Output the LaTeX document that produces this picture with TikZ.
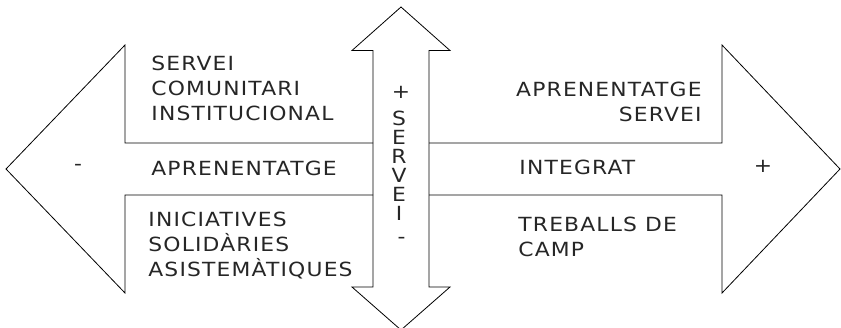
\documentclass[tikz,border=0pt]{standalone}
\usepackage{fontspec}
\setmainfont{DejaVu Sans}[FakeStretch=1.12,LetterSpace=6]

\begin{document}
\begin{tikzpicture}[x=1pt,y=-1pt,line width=0.8pt,
  txt/.style={inner sep=0pt,font=\fontsize{19.5}{25}\selectfont,text=black!85},
  signtxt/.style={inner sep=0pt,font=\fontsize{19.5}{20}\selectfont,text=black!85}]

\useasboundingbox (0,0) rectangle (841,327);

\begin{scope}
% vertical double arrow
\coordinate (vt) at (401,7);
\coordinate (vb) at (401,330);
\coordinate (vtl) at (352,50.5);
\coordinate (vtr) at (450,50.5);
\coordinate (vbl) at (352,287);
\coordinate (vbr) at (450,287);

% shaft corners
\coordinate (sl1) at (373,50.5);
\coordinate (sl2) at (373,287);
\coordinate (sr1) at (429,50.5);
\coordinate (sr2) at (429,287);

% horizontal arrows
\coordinate (lt) at (6,169);
\coordinate (rt) at (840,169);

\draw (vt) -- (vtr) -- (sr1) -- (sr2) -- (vbr) -- (vb) -- (vbl) -- (sl2) -- (sl1) -- (vtl) -- cycle;
\draw (373,143) -- (125,143) -- (125,45) -- (lt) -- (125,293) -- (125,195) -- (373,195);
\draw (429,143) -- (722,143) -- (722,45) -- (rt) -- (722,293) -- (722,195) -- (429,195);
\end{scope}

% base of a multi-line node is its last line
\node[txt,align=left,anchor=base west] (servcom) at (151,120) {SERVEI\\COMUNITARI\\INSTITUCIONAL};
\node[txt,anchor=base west] (aprl) at (151,175) {APRENENTATGE};
\node[txt,align=left,anchor=base west] (inic) at (148,276) {INICIATIVES\\SOLIDÀRIES\\ASISTEMÀTIQUES};

\node[txt,align=right,anchor=base east] (aprs) at (702,121) {APRENENTATGE\\SERVEI};
\node[txt,anchor=base west] (integ) at (519,174) {INTEGRAT};
\node[txt,align=left,anchor=base west] (treb) at (518,256) {TREBALLS DE\\CAMP};

\node[signtxt,font=\fontsize{19.5}{19}\selectfont,align=center] (servv) at (399,166) {S\\E\\R\\V\\E\\I};
\node[signtxt] (vplus) at (401,92) {+};
\node[signtxt] (vminus) at (401.5,240) {-};
\node[signtxt] (lminus) at (78,167) {-};
\node[signtxt] (rplus) at (763,166) {+};

\end{tikzpicture}
\end{document}
